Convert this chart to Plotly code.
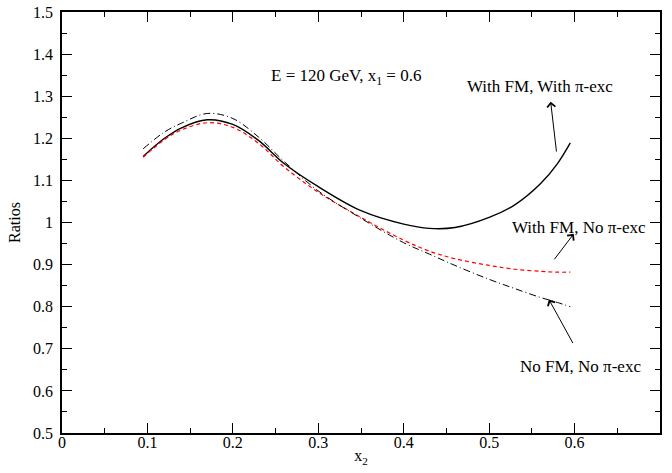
import plotly.graph_objects as go

x_vals = [0.095, 0.12, 0.14, 0.17, 0.20, 0.23, 0.26, 0.30, 0.35, 0.40, 0.43, 0.46, 0.50, 0.53, 0.56, 0.58, 0.595]
with_fm_with_pi = [1.157, 1.200, 1.225, 1.244, 1.233, 1.195, 1.140, 1.085, 1.028, 0.996, 0.986, 0.988, 1.012, 1.042, 1.092, 1.140, 1.189]
with_fm_no_pi = [1.155, 1.197, 1.220, 1.237, 1.226, 1.188, 1.132, 1.072, 1.012, 0.958, 0.932, 0.914, 0.898, 0.889, 0.884, 0.882, 0.882]
no_fm_no_pi = [1.175, 1.215, 1.236, 1.259, 1.247, 1.203, 1.145, 1.075, 1.010, 0.952, 0.925, 0.898, 0.865, 0.843, 0.822, 0.810, 0.800]

x_ticks = [0, 0.1, 0.2, 0.3, 0.4, 0.5, 0.6]
x_tick_labels = ["0", "0.1", "0.2", "0.3", "0.4", "0.5", "0.6"]
y_ticks = [0.5, 0.6, 0.7, 0.8, 0.9, 1.0, 1.1, 1.2, 1.3, 1.4, 1.5]
y_tick_labels = ["0.5", "0.6", "0.7", "0.8", "0.9", "1", "1.1", "1.2", "1.3", "1.4", "1.5"]

FONT = "Liberation Serif"
FS_TICK = 16
FS = 17

fig = go.Figure()
fig.add_trace(go.Scatter(x=x_vals, y=with_fm_with_pi, mode="lines", line=dict(color="black", width=1.4, shape="spline"), showlegend=False))
fig.add_trace(go.Scatter(x=x_vals, y=with_fm_no_pi, mode="lines", line=dict(color="#ff0000", width=1.2, dash="4px,3px", shape="spline"), showlegend=False))
fig.add_trace(go.Scatter(x=x_vals, y=no_fm_no_pi, mode="lines", line=dict(color="black", width=1.0, dash="7px,3px,1px,3px", shape="spline"), showlegend=False))

axis_common = dict(
    showline=True, linecolor="black", linewidth=1.5, mirror="ticks",
    ticks="inside", ticklen=10, tickwidth=1, tickcolor="black",
    showgrid=False, zeroline=False, automargin=False, ticklabeloverflow="allow",
    tickfont=dict(family=FONT, size=FS_TICK, color="black"),
    minor=dict(ticks="inside", ticklen=5, tickwidth=1, tickcolor="black", showgrid=False),
)

fig.update_xaxes(range=[0, 0.7], tickvals=x_ticks, ticktext=x_tick_labels,
                 title=dict(text="x<sub>2</sub>", font=dict(family=FONT, size=FS_TICK, color="black"), standoff=0),
                 ticklabelstandoff=-6,
                 **axis_common)
fig.update_xaxes(minor=dict(dtick=0.05, tick0=0))
fig.update_yaxes(range=[0.5, 1.5], tickvals=y_ticks, ticktext=y_tick_labels,
                 title=dict(text="Ratios", font=dict(family=FONT, size=FS_TICK, color="black"), standoff=8),
                 ticklabelstandoff=4,
                 **axis_common)
fig.update_yaxes(minor=dict(dtick=0.05, tick0=0.5))

ann_font = dict(family=FONT, size=FS, color="black")
fig.add_annotation(x=0.332, y=1.346, xref="x", yref="y", text="E = 120 GeV, x<sub>1</sub> = 0.6", showarrow=False, font=ann_font)
fig.add_annotation(x=0.559, y=1.324, xref="x", yref="y", text="With FM, With π-exc", showarrow=False, font=ann_font)
fig.add_annotation(x=0.605, y=0.987, xref="x", yref="y", text="With FM, No π-exc", showarrow=False, font=ann_font)
fig.add_annotation(x=0.607, y=0.657, xref="x", yref="y", text="No FM, No π-exc", showarrow=False, font=ann_font)

arrows = [
    (0.572, 1.287, 0.579, 1.165),
    (0.599, 0.973, 0.575, 0.909),
    (0.570, 0.817, 0.599, 0.710),
]
for hx, hy, tx, ty in arrows:
    fig.add_annotation(x=hx, y=hy, ax=tx, ay=ty, xref="x", yref="y", axref="x", ayref="y",
                       text="", showarrow=True, arrowhead=4, arrowsize=1.6, arrowwidth=1, arrowcolor="black")

fig.update_layout(width=672, height=473, margin=dict(l=62, r=12, t=12, b=40),
                  plot_bgcolor="white", paper_bgcolor="white",
                  font=dict(family=FONT, size=FS, color="black"))

fig.write_html("out.html", config={"displayModeBar": False},
               post_script="document.body.style.margin='0';")
